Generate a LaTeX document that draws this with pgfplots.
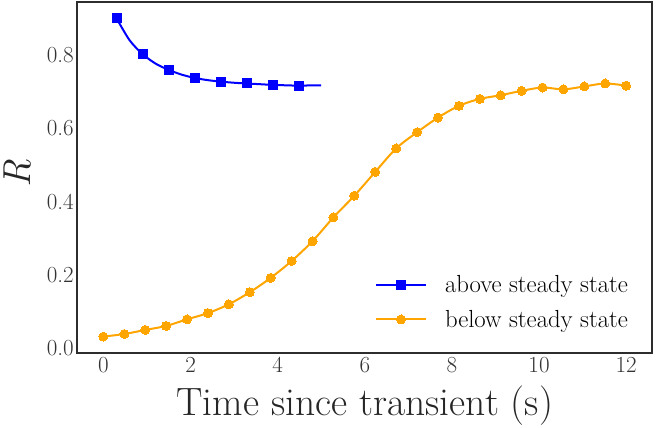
\documentclass[border=0pt]{standalone}
\usepackage{pgfplots}
\pgfplotsset{compat=1.18}

\definecolor{frame}{RGB}{45,45,45}
\definecolor{orng}{RGB}{255,165,0}

\begin{document}
\begin{tikzpicture}
\path[use as bounding box] (-77.3pt,-75pt) rectangle (578.7pt,352.7pt);
\begin{axis}[
    at={(0,0)}, anchor=south west,
    scale only axis,
    width=575pt, height=351pt,
    xmin=-0.6, xmax=12.6,
    ymin=-0.012, ymax=0.945,
    xtick={0,2,...,12},
    ytick={0,0.2,0.4,0.6,0.8},
    major tick length=0pt,
    axis line style={draw=frame, line width=2.2pt},
    /pgf/number format/assume math mode=true,
    tick label style={font=\fontsize{23}{27}\selectfont, color=black!80},
    yticklabel style={/pgf/number format/.cd, fixed, fixed zerofill, precision=1},
    xticklabel style={yshift=-1pt},
    xlabel={Time since transient (s)},
    ylabel={\textit{R}},
    xlabel style={font=\fontsize{39.5}{44}\selectfont, color=black!85,
        at={(axis description cs:0.5,-0.179)}, anchor=base},
    ylabel style={font=\fontsize{39}{43}\selectfont, color=black!85,
        at={(axis description cs:-0.082,0.51)}, anchor=base},
    legend cell align=left,
    legend image code/.code={
        \draw[mark repeat=2,mark phase=2,#1,mark indices={2}] plot coordinates {(0pt,0pt) (25pt,0pt) (50pt,0pt)};
    },
    legend style={draw=none, fill=none, font=\fontsize{24.7}{29}\selectfont,
        at={(axis cs:6.23,0.126)}, anchor=west,
        inner sep=0pt, nodes={inner sep=0pt}, column sep=18pt, row sep=16pt},
]
\addplot+[color=blue, line width=2pt, smooth, tension=0.5,
    mark=square*, mark size=4.5pt, mark options={solid, fill=blue, line width=0pt},
    mark indices={1,3,5,7,9,11,13,15}]
coordinates {
    (0.3,0.900) (0.6,0.840) (0.9,0.802) (1.2,0.776) (1.5,0.759)
    (1.8,0.746) (2.1,0.737) (2.4,0.731) (2.7,0.727) (3.0,0.724)
    (3.3,0.722) (3.6,0.720) (3.9,0.718) (4.2,0.717) (4.5,0.716)
    (4.8,0.717) (5.0,0.717)
};
\addlegendentry{above steady state}
\addplot+[color=orng, line width=2pt, smooth, tension=0.5,
    mark=*, mark size=4.5pt, mark options={solid, fill=orng, line width=0pt}]
coordinates {
    (0.00,0.032) (0.48,0.039) (0.96,0.050) (1.44,0.061) (1.92,0.079)
    (2.40,0.096) (2.88,0.120) (3.36,0.153) (3.84,0.192) (4.32,0.238)
    (4.80,0.292) (5.28,0.357) (5.76,0.416) (6.24,0.481) (6.72,0.545)
    (7.20,0.589) (7.68,0.629) (8.16,0.661) (8.64,0.680) (9.12,0.690)
    (9.60,0.702) (10.08,0.711) (10.56,0.706) (11.04,0.714) (11.52,0.722)
    (12.00,0.716)
};
\addlegendentry{below steady state}
\end{axis}
\end{tikzpicture}
\end{document}
